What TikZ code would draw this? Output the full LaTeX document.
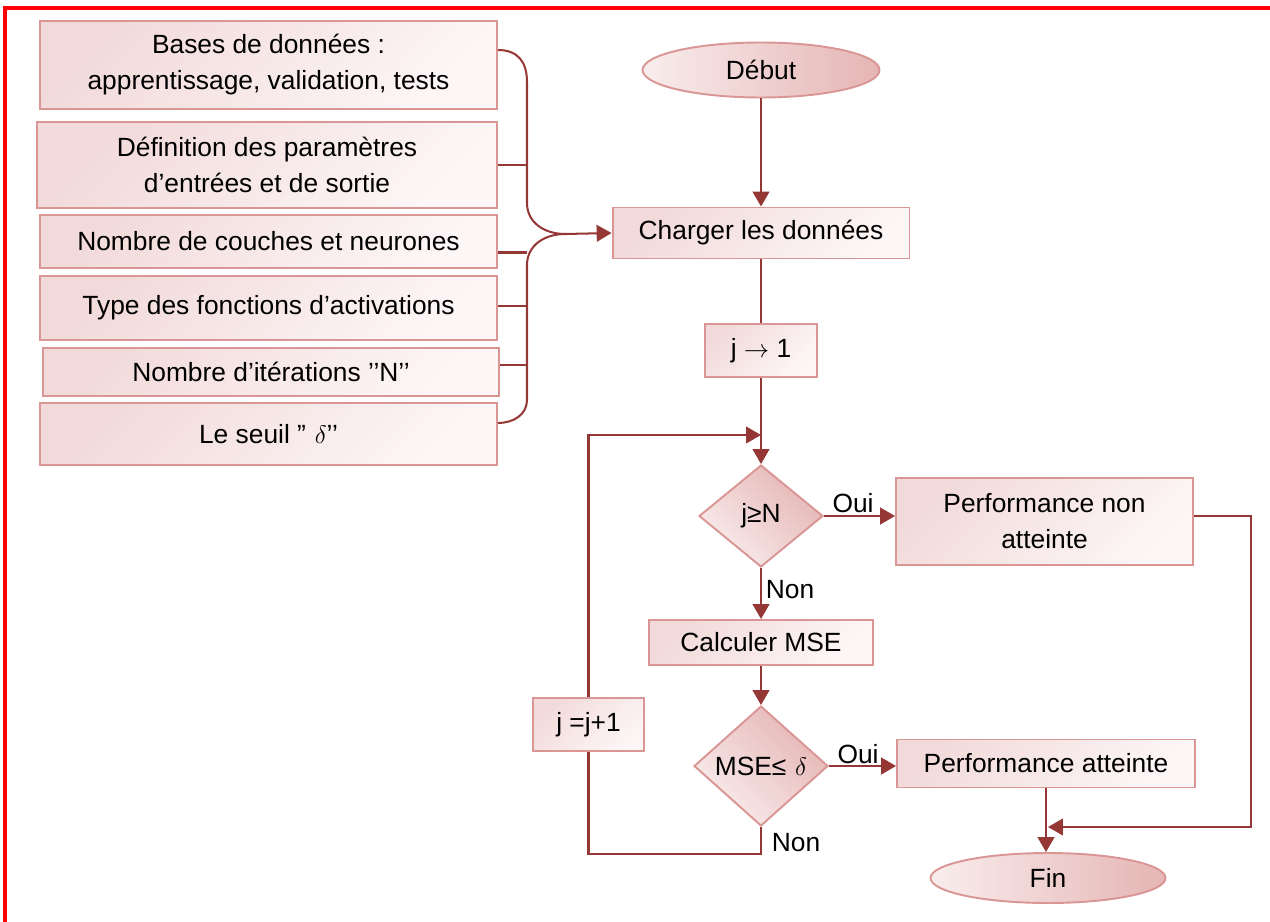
\documentclass[tikz,border=0pt]{standalone}
\usepackage{fontspec}
\setmainfont{Liberation Sans}
\usetikzlibrary{shapes.geometric,arrows.meta,calc}

\definecolor{wire}{HTML}{953735}
\definecolor{edge}{HTML}{D99694}
\definecolor{boxA}{HTML}{F2DADA}
\definecolor{boxB}{HTML}{FDF6F6}
\definecolor{deep}{HTML}{E5B5B4}
\definecolor{pale}{HTML}{F9EDED}

\begin{document}
\begin{tikzpicture}[x=0.02cm,y=-0.02cm,
  font=\fontsize{15}{20.5}\selectfont,
  card/.style={draw=edge, line width=1.1pt, rectangle, top color=boxA, bottom color=boxB,
    shading angle=45, align=center, inner sep=0pt},
  oval/.style={draw=edge, line width=1.1pt, ellipse, left color=pale, right color=deep,
    inner sep=0pt},
  test/.style={draw=edge, line width=1.1pt, diamond, top color=deep, bottom color=pale,
    shading angle=-45, inner sep=0pt},
  link/.style={draw=wire, line width=1.15pt},
  arr/.style={link, -{Triangle[length=8.5pt,width=9.5pt]}},
  lbl/.style={inner sep=0pt}]

\useasboundingbox (0,0) rectangle (1270,922);

% page frame (top and left rules)
\draw[red, line width=1.8pt] (5,922) -- (5,8) -- (1270,8);

% input parameters
\node[card, minimum width=9.14cm, minimum height=1.76cm] (b1) at (268.5,65)
  {Bases de données :\\apprentissage, validation, tests};
\node[card, minimum width=9.2cm, minimum height=1.72cm] (b2) at (267,165)
  {Définition des paramètres\\d’entrées et de sortie};
\node[card, minimum width=9.14cm, minimum height=1.06cm] (b3) at (268.5,241.5)
  {Nombre de couches et neurones};
\node[card, minimum width=9.14cm, minimum height=1.28cm] (b4) at (268.5,308)
  {Type des fonctions d’activations};
\node[card, minimum width=9.12cm, minimum height=0.96cm] (b5) at (271,372)
  {Nombre d’itérations ’’N’’};
\node[card, minimum width=9.14cm, minimum height=1.24cm] (b6) at (268.5,434)
  {Le seuil ”\,\,$\delta$’’};

% main flow
\node[oval, minimum width=4.74cm, minimum height=1.1cm] (start) at (761,70) {Début};
\node[card, minimum width=5.94cm, minimum height=1.02cm] (load) at (761,233) {Charger les données};
\node[card, minimum width=2.24cm, minimum height=1.06cm] (jinit) at (761,350.5) {j $\rightarrow$ 1};
\node[test, minimum width=2.48cm, minimum height=2.04cm] (d1) at (761,516) {j≥N};
\node[card, minimum width=5.94cm, minimum height=1.74cm] (pna) at (1044.5,521.5)
  {Performance non\\atteinte};
\node[card, minimum width=4.48cm, minimum height=0.9cm] (mse) at (761,642.5) {Calculer MSE};
\node[test, minimum width=2.68cm, minimum height=2.4cm] (d2) at (761,766) {MSE≤\,\,$\delta$};
\node[card, minimum width=5.96cm, minimum height=0.96cm] (pa) at (1046,763.5) {Performance atteinte};
\node[card, minimum width=2.22cm, minimum height=1.06cm] (inc) at (588.5,724.5) {j =j+1};
\node[oval, minimum width=4.7cm, minimum height=1.0cm] (fin) at (1048,878) {Fin};

% helper points
\coordinate (spine) at (527,0);
\coordinate (jn) at (565,234);
\coordinate (ret) at (761,435);
\coordinate (merge) at (1048,827);

% gathering brace
\draw[link] ($(b1.east)+(0,-15)$) .. controls +(20,0) and +(0,-20) .. (527,82)
  -- (527,203) .. controls +(0,20) and +(-20,0) .. (jn);
\draw[link] (jn) .. controls +(-20,0) and +(0,-20) .. (527,265)
  -- (527,400) .. controls +(0,15) and +(15,0) .. ($(b6.east)+(0,-11)$);
\draw[link] (b2.east) -- (b2.east -| spine);
\draw[link] ($(b3.east)+(0,11)$) coordinate (t3) -- (t3 -| spine);
\draw[link] ($(b4.east)+(0,-2)$) coordinate (t4) -- (t4 -| spine);
\draw[link] ($(b5.east)+(0,-7)$) coordinate (t5) -- (t5 -| spine);
\draw[arr] (jn) -- (load.west);

% flow connectors
\draw[arr] (start) -- (load);
\draw[link] (load) -- (jinit);
\draw[arr] (jinit) -- (d1);
\draw[arr] (d1.east) -- (d1.east -| pna.west);
\draw[arr] (d1) -- (mse);
\draw[arr] (mse) -- (d2);
\draw[arr] (d2.east) -- (d2.east -| pa.west);
\draw[arr] (pa.south) -- (pa.south |- fin.north);
\draw[arr] (pna.east |- d1.east) -- ++(57,0) |- (merge);
\draw[link] (d2.south) -- ++(0,27) -| (inc.south);
\draw[arr] (inc.north) |- (ret);

% branch labels
\node[lbl] (oui1) at (853,503) {Oui};
\node[lbl] (non1) at (790,590) {Non};
\node[lbl] (oui2) at (858,754) {Oui};
\node[lbl] (non2) at (796,843) {Non};
\end{tikzpicture}
\end{document}
